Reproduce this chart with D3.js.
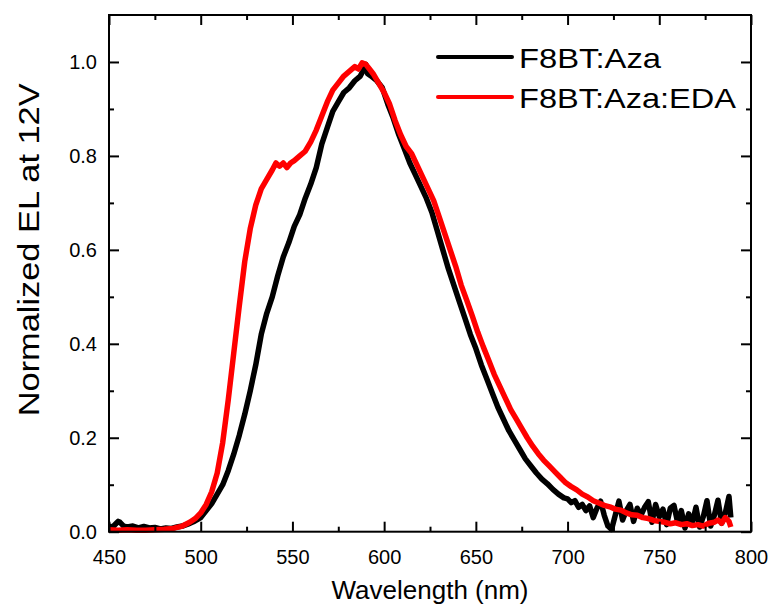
<!DOCTYPE html>
<html>
<head>
<meta charset="utf-8">
<script src="https://d3js.org/d3.v7.min.js"></script>
<style>
    body { margin: 0; background: #fff; }
    text { font-family: Arial, "Liberation Sans", sans-serif; fill: #000; }
</style>
</head>
<body>
<svg id="chart" width="772" height="607"></svg>
<script>
const margin = { top: 15, right: 21, bottom: 75.3, left: 109 };
const width = 772 - margin.left - margin.right;
const height = 607 - margin.top - margin.bottom;

// F8BT:Aza (black)
var azaX = [450, 452, 454, 455, 456, 458, 460, 463, 466, 469, 472, 475, 478, 481, 484, 487, 490, 493, 496,
    500, 503, 506, 509, 512, 515, 518, 521, 524, 527, 530, 533, 536, 539, 542, 545, 548, 551, 554, 557,
    560, 563, 566, 569, 572, 575, 578, 581, 584, 587, 589, 590, 591, 593, 596, 599, 602, 605, 608, 611,
    614, 617, 620, 623, 626, 629, 632, 635, 638, 641, 644, 647, 650, 653, 656, 659, 662, 665, 668, 671,
    674, 677, 680, 683, 686, 689, 692, 695, 698,
    700, 702, 704, 706, 708, 710, 712, 714, 716, 718, 720, 722, 724, 726, 728, 730, 732, 734, 736, 738,
    740, 742, 744, 746, 748, 750, 752, 754, 756, 758, 760, 762, 764, 766, 768, 770, 772, 774, 776, 778,
    780, 782, 784, 786, 788, 789]
var azaY = [0.012, 0.01, 0.018, 0.022, 0.02, 0.012, 0.01, 0.012, 0.008, 0.011, 0.008, 0.009, 0.006, 0.008, 0.007, 0.01, 0.012, 0.016, 0.021,
    0.03, 0.045, 0.06, 0.08, 0.1, 0.13, 0.165, 0.205, 0.25, 0.3, 0.355, 0.42, 0.465, 0.5, 0.545, 0.585, 0.615, 0.65, 0.675, 0.71,
    0.74, 0.775, 0.825, 0.86, 0.895, 0.915, 0.935, 0.945, 0.96, 0.97, 0.985, 0.995, 0.975, 0.97, 0.96, 0.945, 0.91, 0.88, 0.845, 0.815,
    0.785, 0.76, 0.735, 0.71, 0.68, 0.64, 0.6, 0.56, 0.525, 0.49, 0.455, 0.42, 0.39, 0.355, 0.325, 0.295, 0.265, 0.24, 0.215, 0.195,
    0.175, 0.155, 0.14, 0.125, 0.112, 0.102, 0.09, 0.08, 0.072,
    0.07, 0.062, 0.066, 0.052, 0.058, 0.045, 0.055, 0.03, 0.05, 0.065, 0.035, 0.012, 0.005, 0.035, 0.065, 0.025, 0.045, 0.058, 0.022, 0.05,
    0.035, 0.052, 0.064, 0.02, 0.058, 0.032, 0.048, 0.015, 0.05, 0.056, 0.02, 0.045, 0.008, 0.038, 0.018, 0.052, 0.01, 0.032, 0.066, 0.012,
    0.035, 0.067, 0.018, 0.04, 0.075, 0.03]

// F8BT:Aza:EDA (red)
var edaX = [450, 455, 460, 465, 470, 475, 480, 485, 490, 494, 497, 500, 503, 506, 509, 512, 515, 518, 521, 524,
    527, 530, 533, 536, 539, 541, 543, 545, 547, 549, 551, 554, 557, 560, 563, 566, 569, 572, 575, 578,
    581, 584, 586, 588, 590, 592, 594, 597, 600, 603, 606, 609, 612, 615, 618, 621, 624, 627, 630, 633,
    636, 639, 642, 645, 648, 651, 654, 657, 660, 663, 666, 669, 672, 675, 678, 681, 684, 687, 690, 693,
    696, 699, 702, 705, 708, 711, 714, 717, 720, 723, 726, 729, 732, 735, 738, 741, 744, 747, 750, 753,
    756, 759, 762, 765, 768, 771, 774, 777, 780, 782, 784, 786, 788, 789]
var edaY = [0.004, 0.003, 0.004, 0.003, 0.003, 0.004, 0.005, 0.007, 0.012, 0.02, 0.028, 0.04, 0.058, 0.085, 0.125, 0.19, 0.28, 0.38, 0.48, 0.575,
    0.645, 0.695, 0.73, 0.75, 0.77, 0.785, 0.778, 0.785, 0.775, 0.785, 0.79, 0.8, 0.81, 0.83, 0.855, 0.885, 0.915, 0.94, 0.955, 0.97,
    0.98, 0.99, 0.985, 0.998, 0.995, 0.985, 0.975, 0.955, 0.935, 0.91, 0.875, 0.845, 0.82, 0.805, 0.78, 0.755, 0.73, 0.705, 0.67, 0.635,
    0.6, 0.565, 0.525, 0.493, 0.46, 0.425, 0.394, 0.365, 0.335, 0.31, 0.285, 0.26, 0.24, 0.22, 0.2, 0.182, 0.166, 0.152, 0.14, 0.128,
    0.116, 0.104, 0.096, 0.089, 0.08, 0.074, 0.066, 0.061, 0.056, 0.053, 0.048, 0.046, 0.04, 0.036, 0.035, 0.03, 0.028, 0.024, 0.022, 0.02,
    0.017, 0.019, 0.015, 0.017, 0.013, 0.015, 0.012, 0.018, 0.02, 0.025, 0.018, 0.03, 0.022, 0.01]

var seriesNames = ['F8BT:Aza', 'F8BT:Aza:EDA']
var seriesColors = ['#000000', '#ff0000']

var xTicks = [450, 500, 550, 600, 650, 700, 750, 800]
var xMinor = [475, 525, 575, 625, 675, 725, 775]
var yTicks = [0.0, 0.2, 0.4, 0.6, 0.8, 1.0]
var yMinor = [0.1, 0.3, 0.5, 0.7, 0.9]

var svg = d3.select('#chart')
var g = svg.append('g')
    .attr('transform', 'translate(' + margin.left + ',' + margin.top + ')')

var xScale = d3.scaleLinear()
    .domain([450, 800])
    .range([0, width])

var yScale = d3.scaleLinear()
    .domain([0, 1.1])
    .range([height, 0])

var line = d3.line()
    .x(d => xScale(d[0]))
    .y(d => yScale(d[1]))

var series = [d3.zip(azaX, azaY), d3.zip(edaX, edaY)]

// curves first, frame on top
g.selectAll('.curve')
    .data(series)
    .join('path')
    .attr('class', 'curve')
    .attr('d', line)
    .attr('fill', 'none')
    .attr('stroke', (d, i) => seriesColors[i])
    .attr('stroke-width', 5.5)
    .attr('stroke-linejoin', 'round')
    .attr('stroke-linecap', 'butt')

// inward ticks on all four sides
function styleAxis(sel) {
    sel.select('.domain').remove()
    sel.selectAll('line').attr('stroke', '#000').attr('stroke-width', 2)
}

g.append('g')
    .attr('transform', 'translate(0,' + height + ')')
    .call(d3.axisBottom(xScale).tickValues(xTicks).tickSize(-10).tickPadding(18).tickFormat(d3.format('d')))
    .call(styleAxis)
    .call(a => a.selectAll('text').style('font-size', '20px'))
g.append('g')
    .attr('transform', 'translate(0,' + height + ')')
    .call(d3.axisBottom(xScale).tickValues(xMinor).tickSize(-5).tickFormat(''))
    .call(styleAxis)
g.append('g')
    .call(d3.axisTop(xScale).tickValues(xTicks).tickSize(-10).tickFormat(''))
    .call(styleAxis)
g.append('g')
    .call(d3.axisTop(xScale).tickValues(xMinor).tickSize(-5).tickFormat(''))
    .call(styleAxis)

g.append('g')
    .call(d3.axisLeft(yScale).tickValues(yTicks).tickSize(-10).tickPadding(12).tickFormat(d3.format('.1f')))
    .call(styleAxis)
    .call(a => a.selectAll('text').style('font-size', '20px'))
g.append('g')
    .call(d3.axisLeft(yScale).tickValues(yMinor).tickSize(-5).tickFormat(''))
    .call(styleAxis)
g.append('g')
    .attr('transform', 'translate(' + width + ',0)')
    .call(d3.axisRight(yScale).tickValues(yTicks).tickSize(-10).tickFormat(''))
    .call(styleAxis)
g.append('g')
    .attr('transform', 'translate(' + width + ',0)')
    .call(d3.axisRight(yScale).tickValues(yMinor).tickSize(-5).tickFormat(''))
    .call(styleAxis)

g.append('rect')
    .attr('width', width)
    .attr('height', height)
    .attr('fill', 'none')
    .attr('stroke', '#000')
    .attr('stroke-width', 2)

// axis titles
svg.append('text')
    .attr('x', margin.left + width / 2)
    .attr('y', 599)
    .attr('text-anchor', 'middle')
    .style('font-size', '26px')
    .text('Wavelength (nm)')

svg.append('text')
    .attr('transform', 'translate(39,' + (margin.top + yScale(0.6)) + ') rotate(-90)')
    .attr('text-anchor', 'middle')
    .attr('textLength', 333)
    .attr('lengthAdjust', 'spacingAndGlyphs')
    .style('font-size', '30px')
    .text('Normalized EL at 12V')

// legend
var legendWidths = [142, 217]
var legend = svg.append('g')
    .attr('transform', 'translate(438,57)')
var rows = legend.selectAll('g')
    .data(seriesNames)
    .join('g')
    .attr('transform', (d, i) => 'translate(0,' + (i * 40) + ')')
rows.append('line')
    .attr('x1', 0).attr('x2', 74)
    .attr('stroke', (d, i) => seriesColors[i])
    .attr('stroke-width', 4)
    .attr('stroke-linecap', 'round')
rows.append('text')
    .attr('x', 81)
    .attr('y', 11)
    .attr('textLength', (d, i) => legendWidths[i])
    .attr('lengthAdjust', 'spacingAndGlyphs')
    .style('font-size', '28px')
    .text(d => d)
</script>
</body>
</html>
